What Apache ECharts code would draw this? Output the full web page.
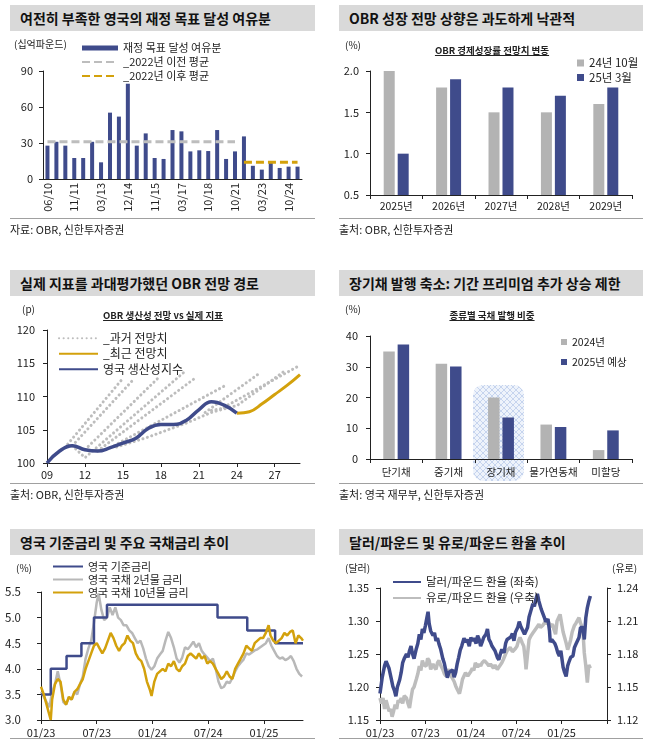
<!DOCTYPE html>
<html><head><meta charset="utf-8">
<script src="https://cdn.jsdelivr.net/npm/echarts@6/dist/echarts.min.js"></script>
<style>
html,body{margin:0;padding:0;background:#fff;}
body{width:671px;height:746px;position:relative;overflow:hidden;font-family:"Noto Sans CJK KR","Noto Sans",sans-serif;}
#chart{position:absolute;left:0;top:0;width:671px;height:746px;}
.tb{position:absolute;height:26px;background:#D9D9D9;font-weight:bold;font-size:14px;line-height:26px;padding-left:10px;color:#111;box-sizing:border-box;white-space:nowrap;z-index:2;}
.src{position:absolute;font-size:11px;color:#222;white-space:nowrap;z-index:2;}
.hr{position:absolute;height:1px;background:#A0A0A0;z-index:2;}
.sub{position:absolute;font-size:9.5px;font-weight:bold;text-decoration:underline;color:#222;transform:translate(-50%,-50%);white-space:nowrap;z-index:2;}
.unit{position:absolute;font-size:10px;color:#222;transform:translateY(-50%);white-space:nowrap;z-index:2;}
</style></head><body>
<div id="chart"></div>

<div class="tb" style="left:10px;top:5px;width:305px">여전히 부족한 영국의 재정 목표 달성 여유분</div>
<div class="tb" style="left:339px;top:5px;width:304px">OBR 성장 전망 상향은 과도하게 낙관적</div>
<div class="tb" style="left:10px;top:270px;width:305px">실제 지표를 과대평가했던 OBR 전망 경로</div>
<div class="tb" style="left:339px;top:270px;width:304px">장기채 발행 축소: 기간 프리미엄 추가 상승 제한</div>
<div class="tb" style="left:10px;top:529px;width:305px">영국 기준금리 및 주요 국채금리 추이</div>
<div class="tb" style="left:339px;top:529px;width:304px">달러/파운드 및 유로/파운드 환율 추이</div>

<div class="hr" style="left:10px;top:218px;width:305px"></div>
<div class="hr" style="left:339px;top:218px;width:304px"></div>
<div class="hr" style="left:10px;top:483px;width:305px"></div>
<div class="hr" style="left:339px;top:483px;width:304px"></div>
<div class="hr" style="left:10px;top:738px;width:305px"></div>
<div class="hr" style="left:339px;top:738px;width:304px"></div>

<div class="src" style="left:10px;top:221px">자료: OBR, 신한투자증권</div>
<div class="src" style="left:339px;top:221px">출처: OBR, 신한투자증권</div>
<div class="src" style="left:10px;top:486px">출처: OBR, 신한투자증권</div>
<div class="src" style="left:339px;top:486px">출처: 영국 재무부, 신한투자증권</div>

<div class="unit" style="left:14px;top:43px">(십억파운드)</div>
<div class="unit" style="left:345px;top:44px">(%)</div>
<div class="sub" style="left:492px;top:50px">OBR 경제성장률 전망치 변동</div>
<div class="unit" style="left:22px;top:308px">(p)</div>
<div class="sub" style="left:163px;top:315px">OBR 생산성 전망 vs 실제 지표</div>
<div class="unit" style="left:345px;top:308px">(%)</div>
<div class="sub" style="left:492px;top:315px">종류별 국채 발행 비중</div>
<div class="unit" style="left:16px;top:567px">(%)</div>
<div class="unit" style="left:345px;top:567px">(달러)</div>
<div class="unit" style="left:612px;top:567px">(유로)</div>

<script>
// ---------- Panel 1: fiscal headroom ----------
const p1Cats = ['06/10','11/10','03/11','11/11','03/12','12/12','03/13','12/13','03/14','12/14','03/15','07/15','11/15','03/16','11/16','03/17','11/17','03/18','10/18','03/20','03/21','10/21','03/22','11/22','03/23','11/23','03/24','10/24','03/25'];
const p1Headroom = [27.8,31,27.8,17.5,17.5,31,13.9,55.3,52,79.4,27.8,38,17.5,16.7,40.8,39.7,23,23.9,23.3,40.8,16.7,23,35.5,11,7.8,13.3,9.2,10.3,10.3];
const p1PreAvg = [['06/10',31],['10/21',31]];
const p1PostAvg = [['03/22',13.9],['03/25',13.9]];

// ---------- Panel 2: OBR growth forecasts ----------
const p2Cats = ['2025년','2026년','2027년','2028년','2029년'];
const p2Oct24 = [2.0,1.8,1.5,1.5,1.6];
const p2Mar25 = [1.0,1.9,1.8,1.7,1.8];

// ---------- Panel 3: productivity forecasts (x = year, 2-digit) ----------
const p3Actual = [[9,100],[10,101.8],[11,102.6],[12,102.0],[13,101.8],[14,102.3],[15,103.0],[16,103.7],[17,105.2],[18,105.8],[19,105.8],[20,106.4],[21,108.0],[22,109.2],[23,108.7],[24,107.5]];
const p3Recent = [[24,107.5],[25,107.7],[26,108.9],[27,110.3],[28,111.7],[29,113.3]];
const p3Past = [
  [[10.4,102.3],[14.9,112.5]],
  [[11,102.6],[15.9,112.7]],
  [[11,102.6],[12,100.8],[19.8,113.6]],
  [[12,102.0],[17.9,113.0]],
  [[13,101.8],[20.8,112.9]],
  [[14,102.3],[23.05,111.6]],
  [[14.5,102.4],[17,103.9],[20,106.0],[22,107.6],[23.5,108.4]],
  [[21.5,107.6],[25.8,113.5]],
  [[22,107.9],[24,108.6],[27.9,114.0]],
  [[23,108.4],[29,114.7]]
];

// ---------- Panel 4: gilt issuance share ----------
const p4Cats = ['단기채','중기채','장기채','물가연동채','미할당'];
const p4Y2024 = [35,31,20,11.2,2.9];
const p4Y2025 = [37.2,30.1,13.5,10.4,9.3];

// ---------- Panel 5: rates (x = months since Jan 2023) ----------
const p5Bank = [[0,3.5],[1.05,4.0],[2.75,4.25],[4.35,4.5],[5.7,5.0],[7.1,5.25],[19.0,5.0],[22.2,4.75],[25.2,4.5],[28.2,4.5]];
const p5Gilt2y = [[0,3.55],[0.3,3.45],[0.6,3.35],[0.9,3.25],[1.2,3.55],[1.5,3.7],[1.8,3.95],[2.1,3.7],[2.4,3.35],[2.7,3.3],[3.0,3.45],[3.3,3.4],[3.6,3.55],[3.9,3.5],[4.2,3.7],[4.5,3.85],[4.8,4.2],[5.1,4.4],[5.4,4.55],[5.7,4.9],[6.0,5.3],[6.2,5.47],[6.5,5.15],[6.8,4.95],[7.1,5.0],[7.4,5.2],[7.7,5.05],[8.0,5.2],[8.3,5.0],[8.6,4.95],[8.9,4.85],[9.2,4.85],[9.5,4.75],[9.8,4.7],[10.1,4.6],[10.4,4.5],[10.7,4.55],[11.0,4.4],[11.3,4.2],[11.6,4.05],[11.9,3.98],[12.2,4.05],[12.5,4.2],[12.8,4.28],[13.1,4.35],[13.4,4.55],[13.7,4.72],[14.0,4.6],[14.3,4.42],[14.6,4.2],[14.9,4.12],[15.2,4.22],[15.5,4.42],[15.8,4.38],[16.1,4.45],[16.4,4.53],[16.7,4.42],[17.0,4.5],[17.3,4.35],[17.6,4.28],[17.9,4.22],[18.2,4.15],[18.5,4.2],[18.8,4.0],[19.1,3.75],[19.4,3.62],[19.7,3.65],[20.0,3.75],[20.3,3.72],[20.6,3.82],[20.9,3.95],[21.2,4.05],[21.5,4.12],[21.8,4.18],[22.1,4.3],[22.4,4.28],[22.7,4.32],[23.0,4.36],[23.3,4.38],[23.6,4.42],[23.9,4.46],[24.2,4.5],[24.5,4.6],[24.8,4.45],[25.1,4.35],[25.4,4.25],[25.7,4.2],[26.0,4.22],[26.3,4.17],[26.6,4.2],[26.9,4.25],[27.2,4.15],[27.5,4.0],[27.8,3.9],[28.1,3.85]];
const p5Gilt10y = [[0,3.65],[0.3,3.5],[0.6,3.3],[0.9,3.1],[1.05,3.0],[1.2,3.4],[1.5,3.7],[1.8,3.8],[2.1,3.75],[2.4,3.4],[2.7,3.3],[3.0,3.45],[3.3,3.4],[3.6,3.55],[3.9,3.6],[4.2,3.7],[4.5,3.8],[4.8,4.0],[5.1,4.15],[5.4,4.3],[5.7,4.45],[6.0,4.5],[6.3,4.4],[6.6,4.3],[6.9,4.4],[7.2,4.55],[7.5,4.7],[7.8,4.6],[8.1,4.45],[8.4,4.35],[8.7,4.45],[9.0,4.5],[9.3,4.65],[9.6,4.55],[9.9,4.5],[10.2,4.3],[10.5,4.2],[10.8,4.15],[11.1,4.0],[11.4,3.75],[11.7,3.6],[11.9,3.47],[12.2,3.75],[12.5,3.9],[12.8,3.95],[13.1,4.0],[13.4,3.95],[13.7,4.1],[14.0,4.05],[14.3,4.15],[14.6,4.0],[14.9,3.95],[15.2,4.05],[15.5,4.1],[15.8,4.25],[16.1,4.3],[16.4,4.25],[16.7,4.2],[17.0,4.3],[17.3,4.2],[17.6,4.25],[17.9,4.1],[18.2,4.15],[18.5,4.1],[18.8,4.0],[19.1,3.9],[19.4,3.8],[19.7,3.85],[20.0,3.95],[20.3,3.85],[20.6,3.8],[20.9,4.0],[21.2,4.1],[21.5,4.2],[21.8,4.3],[22.1,4.45],[22.4,4.4],[22.7,4.35],[23.0,4.5],[23.3,4.55],[23.6,4.6],[23.9,4.6],[24.2,4.7],[24.5,4.85],[24.7,4.65],[25.0,4.55],[25.3,4.5],[25.6,4.55],[25.9,4.6],[26.2,4.7],[26.5,4.65],[26.8,4.72],[27.1,4.75],[27.4,4.5],[27.7,4.65],[28.0,4.6],[28.2,4.55]];

// ---------- Panel 6: FX (x = months since Jan 2023) ----------
const p6Usd = [[0,1.19],[0.3,1.215],[0.6,1.232],[0.8,1.239],[1.0,1.236],[1.2,1.228],[1.5,1.212],[1.7,1.201],[1.9,1.195],[2.1,1.186],[2.3,1.2],[2.6,1.211],[2.8,1.222],[3.0,1.237],[3.2,1.243],[3.5,1.25],[3.7,1.245],[3.9,1.255],[4.1,1.262],[4.3,1.25],[4.5,1.243],[4.8,1.258],[5.0,1.266],[5.2,1.28],[5.4,1.272],[5.6,1.288],[5.8,1.282],[6.0,1.293],[6.2,1.305],[6.35,1.314],[6.5,1.296],[6.7,1.285],[7.0,1.278],[7.2,1.282],[7.4,1.27],[7.6,1.274],[7.8,1.265],[8.0,1.258],[8.3,1.243],[8.5,1.236],[8.7,1.225],[8.9,1.214],[9.1,1.222],[9.3,1.219],[9.6,1.226],[9.8,1.215],[10.0,1.222],[10.2,1.235],[10.4,1.245],[10.6,1.256],[10.8,1.262],[11.1,1.274],[11.3,1.268],[11.5,1.272],[11.8,1.262],[12.0,1.275],[12.2,1.27],[12.4,1.274],[12.7,1.266],[12.9,1.278],[13.1,1.272],[13.3,1.262],[13.5,1.268],[13.7,1.275],[14.0,1.28],[14.2,1.288],[14.4,1.272],[14.6,1.268],[14.8,1.262],[15.0,1.262],[15.2,1.255],[15.5,1.245],[15.7,1.241],[15.9,1.25],[16.1,1.257],[16.4,1.252],[16.6,1.266],[16.8,1.272],[17.0,1.27],[17.3,1.276],[17.5,1.281],[17.7,1.27],[17.9,1.283],[18.2,1.29],[18.4,1.299],[18.6,1.292],[18.8,1.293],[19.1,1.28],[19.3,1.28],[19.5,1.29],[19.7,1.306],[20.0,1.318],[20.2,1.326],[20.4,1.322],[20.6,1.333],[20.8,1.341],[21.0,1.33],[21.3,1.318],[21.5,1.312],[21.7,1.306],[21.9,1.299],[22.2,1.303],[22.4,1.285],[22.5,1.268],[22.7,1.272],[22.9,1.275],[23.1,1.266],[23.3,1.26],[23.5,1.252],[23.7,1.247],[23.9,1.255],[24.2,1.23],[24.4,1.222],[24.6,1.216],[24.8,1.232],[25.0,1.239],[25.2,1.245],[25.5,1.247],[25.7,1.26],[25.9,1.265],[26.1,1.268],[26.3,1.275],[26.5,1.29],[26.8,1.29],[27.0,1.272],[27.2,1.305],[27.4,1.32],[27.6,1.33],[27.8,1.338]];
const p6Eur = [[0,1.14],[0.2,1.135],[0.4,1.14],[0.6,1.13],[0.8,1.138],[1.0,1.133],[1.2,1.128],[1.4,1.13],[1.6,1.123],[1.8,1.128],[2.0,1.134],[2.2,1.13],[2.4,1.138],[2.6,1.136],[2.8,1.14],[3.0,1.135],[3.2,1.142],[3.5,1.14],[3.7,1.135],[3.9,1.131],[4.1,1.14],[4.3,1.148],[4.5,1.15],[4.8,1.157],[5.0,1.162],[5.2,1.169],[5.4,1.165],[5.6,1.174],[5.8,1.17],[6.1,1.169],[6.3,1.176],[6.5,1.174],[6.7,1.166],[7.0,1.171],[7.2,1.168],[7.4,1.166],[7.6,1.172],[7.8,1.174],[8.0,1.17],[8.3,1.166],[8.5,1.162],[8.7,1.16],[8.9,1.164],[9.1,1.166],[9.4,1.16],[9.6,1.16],[9.8,1.155],[10.0,1.151],[10.2,1.148],[10.5,1.144],[10.7,1.15],[10.9,1.157],[11.1,1.16],[11.3,1.163],[11.6,1.16],[11.8,1.16],[12.0,1.164],[12.2,1.167],[12.4,1.165],[12.6,1.172],[12.9,1.168],[13.1,1.171],[13.3,1.169],[13.5,1.172],[13.8,1.174],[14.0,1.175],[14.2,1.171],[14.4,1.169],[14.6,1.171],[14.8,1.171],[15.0,1.167],[15.2,1.17],[15.5,1.166],[15.7,1.168],[15.9,1.169],[16.1,1.172],[16.3,1.175],[16.6,1.18],[16.8,1.183],[17.0,1.184],[17.2,1.186],[17.5,1.182],[17.7,1.183],[17.9,1.185],[18.1,1.187],[18.3,1.192],[18.5,1.195],[18.8,1.19],[19.0,1.187],[19.2,1.175],[19.3,1.166],[19.5,1.18],[19.7,1.193],[19.9,1.196],[20.2,1.199],[20.4,1.2],[20.6,1.203],[20.8,1.205],[21.0,1.207],[21.2,1.204],[21.5,1.206],[21.7,1.208],[21.9,1.21],[22.1,1.207],[22.3,1.209],[22.5,1.205],[22.8,1.207],[23.0,1.202],[23.2,1.198],[23.4,1.21],[23.6,1.213],[23.8,1.216],[24.0,1.208],[24.2,1.2],[24.4,1.195],[24.6,1.19],[24.8,1.184],[25.0,1.188],[25.2,1.193],[25.4,1.2],[25.7,1.206],[25.9,1.208],[26.1,1.209],[26.3,1.213],[26.5,1.208],[26.8,1.203],[27.0,1.181],[27.2,1.169],[27.4,1.154],[27.6,1.17],[27.8,1.167]];
const p6EurTicks = [1.12,1.15,1.18,1.21,1.24];

// ---------- styling ----------
const FONT = '"Noto Sans CJK KR","Noto Sans",sans-serif';
const NAVY = '#3F4B8B', GRAY = '#B3B3B3', GOLD = '#D3A10C', LGRAY = '#BDBDBD';
const TXT = '#222';
const aLine = {show:true, lineStyle:{color:'#222', width:1}};
const tick = (len) => ({show:true, length:len||4, lineStyle:{color:'#222'}});
const lbl = (o) => Object.assign({color:TXT, fontSize:11, fontFamily:FONT}, o||{});
const monthLbl = v => {
  if (v % 6 !== 0 || v >= 30) return '';
  const y = 23 + Math.floor(v/12), m = (v % 12) + 1;
  return String(m).padStart(2,'0') + '/' + String(y).padStart(2,'0');
};

// hatch pattern for highlight
const pc = document.createElement('canvas'); pc.width = 6; pc.height = 6;
const g = pc.getContext('2d');
g.fillStyle = '#EEF3FB'; g.fillRect(0,0,6,6);
g.strokeStyle = '#C6D4EE'; g.lineWidth = 1;
g.beginPath(); g.moveTo(0,0); g.lineTo(6,6); g.moveTo(6,0); g.lineTo(0,6); g.stroke();

const chart = echarts.init(document.getElementById('chart'), null, {renderer:'canvas'});

const pastSeries = p3Past.map(d => ({
  name:'_과거 전망치', type:'line', xAxisIndex:2, yAxisIndex:2, data:d, symbol:'none', z:2,
  lineStyle:{color:LGRAY, width:3, type:[0.1,4.5], cap:'round'}, itemStyle:{color:LGRAY}
}));

const option = {
  animation:false,
  textStyle:{fontFamily:FONT},
  graphic:[{type:'rect', silent:true, z:0, shape:{x:473, y:385, width:51, height:96, r:10}, style:{fill:{image:pc, repeat:'repeat'}}}],
  grid:[
    {left:43, top:71, width:259, height:108},
    {left:370, top:71, width:262, height:124},
    {left:47, top:330, width:253, height:133},
    {left:370, top:336, width:262, height:123},
    {left:41, top:592, width:262, height:128},
    {left:380, top:588, width:227, height:132}
  ],
  legend:[
    {left:76, top:36, orient:'vertical', itemWidth:36, itemHeight:5, itemGap:0,
     textStyle:{color:TXT, fontSize:11, lineHeight:14, fontFamily:FONT},
     data:[{name:'재정 목표 달성 여유분', icon:'rect'},
           {name:'_2022년 이전 평균', itemStyle:{opacity:0}},
           {name:'_2022년 이후 평균', itemStyle:{opacity:0}}]},
    {left:572, top:51, orient:'vertical', itemWidth:7, itemHeight:7, itemGap:0.5,
     textStyle:{color:TXT, fontSize:11.5, lineHeight:14, fontFamily:FONT},
     data:[{name:'24년 10월', icon:'rect'},{name:'25년 3월', icon:'rect'}]},
    {left:53, top:325.5, orient:'vertical', itemWidth:39, itemHeight:6, itemGap:0, itemStyle:{opacity:0},
     textStyle:{color:TXT, fontSize:12, lineHeight:15.5, fontFamily:FONT},
     data:['_과거 전망치','_최근 전망치','영국 생산성지수']},
    {left:556, top:330, orient:'vertical', itemWidth:6, itemHeight:6, itemGap:6,
     textStyle:{color:TXT, fontSize:10.5, lineHeight:14, fontFamily:FONT},
     data:[{name:'2024년', icon:'rect'},{name:'2025년 예상', icon:'rect'}]},
    {left:47, top:555, orient:'vertical', itemWidth:30, itemHeight:6, itemGap:0, itemStyle:{opacity:0},
     textStyle:{color:TXT, fontSize:11, lineHeight:13, fontFamily:FONT},
     data:['영국 기준금리','영국 국채 2년물 금리','영국 국채 10년물 금리']},
    {left:387, top:569, orient:'vertical', itemWidth:28, itemHeight:6, itemGap:0, itemStyle:{opacity:0},
     textStyle:{color:TXT, fontSize:11.5, lineHeight:16, fontFamily:FONT},
     data:['달러/파운드 환율 (좌축)','유로/파운드 환율 (우축)']}
  ],
  xAxis:[
    {gridIndex:0, type:'category', data:p1Cats, axisLine:aLine, axisTick:{show:false},
     axisLabel:lbl({rotate:90, interval:2, margin:4})},
    {gridIndex:1, type:'category', data:p2Cats, axisLine:aLine, axisTick:tick(4),
     axisLabel:lbl({fontSize:10.5, margin:6, interval:0})},
    {gridIndex:2, type:'value', min:9, max:29, interval:3, axisLine:aLine, axisTick:tick(4), splitLine:{show:false},
     axisLabel:lbl({fontSize:11, margin:6, showMaxLabel:false, formatter:v => String(v).padStart(2,'0')})},
    {gridIndex:3, type:'category', data:p4Cats, axisLine:aLine, axisTick:tick(4),
     axisLabel:lbl({fontSize:10.5, margin:8, interval:0, hideOverlap:false})},
    {gridIndex:4, type:'value', min:0, max:28.2, interval:6, axisLine:aLine, axisTick:tick(4), splitLine:{show:false},
     axisLabel:lbl({fontSize:11, margin:7, showMaxLabel:false, formatter:monthLbl})},
    {gridIndex:5, type:'value', min:0, max:30, interval:6, axisLine:aLine, axisTick:tick(4), splitLine:{show:false},
     axisLabel:lbl({fontSize:11, margin:7, formatter:monthLbl})}
  ],
  yAxis:[
    {gridIndex:0, type:'value', min:0, max:90, interval:30, axisLine:aLine, axisTick:tick(4), splitLine:{show:false},
     axisLabel:lbl({margin:10})},
    {gridIndex:1, type:'value', min:0.5, max:2.0, interval:0.5, axisLine:aLine, axisTick:tick(4), splitLine:{show:false},
     axisLabel:lbl({margin:11, formatter:v => v.toFixed(1)})},
    {gridIndex:2, type:'value', min:100, max:120, interval:5, axisLine:aLine, axisTick:tick(4), splitLine:{show:false},
     axisLabel:lbl({margin:12})},
    {gridIndex:3, type:'value', min:0, max:40, interval:10, axisLine:aLine, axisTick:tick(4), splitLine:{show:false},
     axisLabel:lbl({margin:12})},
    {gridIndex:4, type:'value', min:3.0, max:5.5, interval:0.5, axisLine:aLine, axisTick:tick(4), splitLine:{show:false},
     axisLabel:lbl({fontSize:11.5, margin:20, formatter:v => v.toFixed(1)})},
    {gridIndex:5, type:'value', min:1.15, max:1.35, interval:0.05, axisLine:aLine, axisTick:tick(4), splitLine:{show:false},
     axisLabel:lbl({margin:11, formatter:v => v.toFixed(2)})},
    {gridIndex:5, type:'value', position:'right', min:1.12, max:1.24, alignTicks:false, axisLine:aLine, splitLine:{show:false},
     axisTick:{show:true, length:4, lineStyle:{color:'#222'}, customValues:p6EurTicks},
     axisLabel:lbl({margin:10, customValues:p6EurTicks, formatter:v => v.toFixed(2)})}
  ],
  series:[
    // panel 1
    {name:'재정 목표 달성 여유분', type:'bar', xAxisIndex:0, yAxisIndex:0, data:p1Headroom, barWidth:4, itemStyle:{color:NAVY}},
    {name:'_2022년 이전 평균', type:'line', xAxisIndex:0, yAxisIndex:0, data:p1PreAvg, symbol:'none', z:3,
     lineStyle:{color:'#BDBDBD', width:3, type:[8,4]}, itemStyle:{color:'#BDBDBD'}},
    {name:'_2022년 이후 평균', type:'line', xAxisIndex:0, yAxisIndex:0, data:p1PostAvg, symbol:'none', z:3,
     lineStyle:{color:GOLD, width:3, type:[8,4]}, itemStyle:{color:GOLD}},
    // panel 2
    {name:'24년 10월', type:'bar', xAxisIndex:1, yAxisIndex:1, data:p2Oct24, barWidth:11, barGap:'27%', itemStyle:{color:GRAY}},
    {name:'25년 3월', type:'bar', xAxisIndex:1, yAxisIndex:1, data:p2Mar25, barWidth:11, barGap:'27%', itemStyle:{color:NAVY}},
    // panel 3
    ...pastSeries,
    {name:'_최근 전망치', type:'line', xAxisIndex:2, yAxisIndex:2, data:p3Recent, symbol:'none', smooth:0.4, z:3,
     lineStyle:{color:GOLD, width:3}, itemStyle:{color:GOLD}},
    {name:'영국 생산성지수', type:'line', xAxisIndex:2, yAxisIndex:2, data:p3Actual, symbol:'none', smooth:0.45, z:4,
     lineStyle:{color:NAVY, width:3.5}, itemStyle:{color:NAVY}},
    // panel 4
    {name:'2024년', type:'bar', xAxisIndex:3, yAxisIndex:3, data:p4Y2024, barWidth:11.5, barGap:'25%', itemStyle:{color:GRAY}, z:2},
    {name:'2025년 예상', type:'bar', xAxisIndex:3, yAxisIndex:3, data:p4Y2025, barWidth:11.5, barGap:'25%', itemStyle:{color:NAVY}, z:2},
    // panel 5
    {name:'영국 기준금리', type:'line', xAxisIndex:4, yAxisIndex:4, data:p5Bank, step:'end', symbol:'none', z:3,
     lineStyle:{color:NAVY, width:2.5}, itemStyle:{color:NAVY}},
    {name:'영국 국채 2년물 금리', type:'line', xAxisIndex:4, yAxisIndex:4, data:p5Gilt2y, symbol:'none', z:2,
     lineStyle:{color:'#B8B8B8', width:2.5}, itemStyle:{color:'#B8B8B8'}},
    {name:'영국 국채 10년물 금리', type:'line', xAxisIndex:4, yAxisIndex:4, data:p5Gilt10y, symbol:'none', z:4,
     lineStyle:{color:GOLD, width:2.5}, itemStyle:{color:GOLD}},
    // panel 6
    {name:'유로/파운드 환율 (우축)', type:'line', xAxisIndex:5, yAxisIndex:6, data:p6Eur, symbol:'none', z:2,
     lineStyle:{color:LGRAY, width:3.5}, itemStyle:{color:LGRAY}},
    {name:'달러/파운드 환율 (좌축)', type:'line', xAxisIndex:5, yAxisIndex:5, data:p6Usd, symbol:'none', z:3,
     lineStyle:{color:NAVY, width:3.5}, itemStyle:{color:NAVY}}
  ]
};
chart.setOption(option);
</script>
</body></html>
